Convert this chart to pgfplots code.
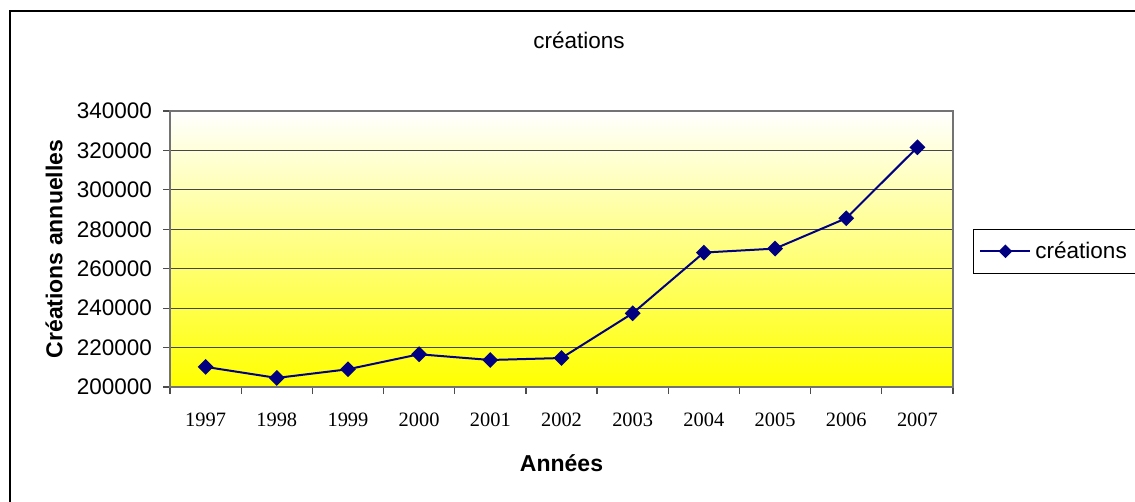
\documentclass[border=0pt]{standalone}
\usepackage{pgfplots}
\pgfplotsset{compat=1.18}
\usepackage{fontspec}
\setmainfont{Liberation Serif}
\setsansfont{Liberation Sans}
\definecolor{navy}{RGB}{0,0,128}
\definecolor{gridc}{RGB}{70,70,70}
\begin{document}
\begin{tikzpicture}
\useasboundingbox (0,0) rectangle (567.5pt,-251pt);
\draw[line width=1pt] (5pt,-251pt) -- (5pt,-5.5pt) -- (567.5pt,-5.5pt);
\node[font=\sffamily\fontsize{11.25}{13}\selectfont] at (289.5pt,-20pt) {créations};
\begin{axis}[
  at={(85pt,-193.5pt)}, anchor=south west,
  scale only axis, width=391.5pt, height=138pt,
  xmin=-0.5, xmax=10.5, ymin=200000, ymax=340000,
  scaled y ticks=false,
  xtick pos=bottom, ytick pos=left,
  xtick={0,...,10},
  xticklabels={1997,1998,1999,2000,2001,2002,2003,2004,2005,2006,2007},
  minor xtick={-0.5,0.5,...,10.5},
  major x tick style={draw=none},
  minor x tick style={black!70, line width=0.6pt},
  minor tick length=3.5pt,
  ytick={200000,220000,...,340000},
  yticklabels={200000,220000,240000,260000,280000,300000,320000,340000},
  major tick length=3.5pt,
  tick align=outside,
  tick style={black!70, line width=0.6pt},
  ymajorgrids, grid style={gridc, line width=0.5pt},
  axis line style={black!55, line width=0.8pt},
  xticklabel style={font=\fontsize{10.2}{12}\selectfont, yshift=-6pt},
  yticklabel style={font=\sffamily\fontsize{11.25}{13}\selectfont, xshift=-2pt},
  xlabel={Années}, ylabel={Créations annuelles},
  label style={font=\sffamily\bfseries\fontsize{11.5}{13}\selectfont},
  xlabel style={at={(axis description cs:0.5,-0.275)}, anchor=center},
  ylabel style={at={(axis description cs:-0.148,0.5)}, anchor=center, rotate=0},
  axis background/.style={top color=white, bottom color=yellow},
  legend style={at={(axis description cs:1.0255,0.5725)}, anchor=north west,
    draw=black, line width=0.5pt, fill=white,
    font=\sffamily\fontsize{11.25}{13}\selectfont,
    inner xsep=3pt, inner ysep=4pt},
  legend image code/.code={\draw[#1, mark repeat=2, mark phase=2, mark size=1.9pt] plot coordinates {(0pt,0pt) (12.5pt,0pt) (25pt,0pt)};},
  clip=false,
]
\addplot[navy, line width=1pt, mark=square*, mark size=2.3pt, mark options={rotate=45, fill=navy, draw=navy}]
  coordinates {(0,210200) (1,204600) (2,209000) (3,216600) (4,213700) (5,214700)
               (6,237400) (7,268200) (8,270200) (9,285600) (10,321600)};
\addlegendentry{créations}
\end{axis}
\end{tikzpicture}
\end{document}
